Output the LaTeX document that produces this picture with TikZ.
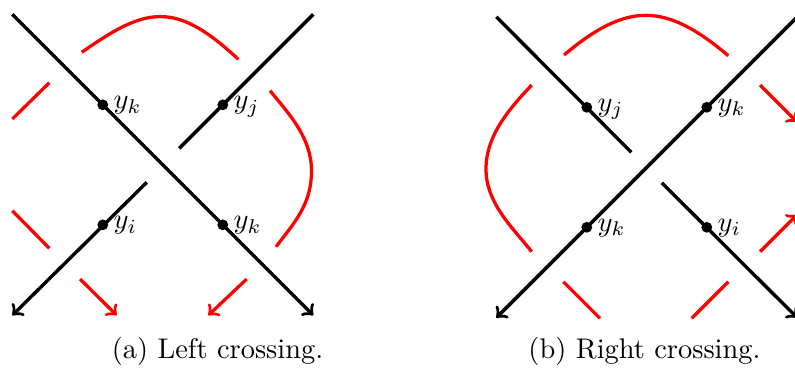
\documentclass[tikz,border=0pt]{standalone}
\begin{document}
\begin{tikzpicture}[x=0.352pt,y=-0.352pt,
  blk/.style={line width=1.2pt,black},
  rln/.style={line width=1.15pt,red},
  dotnode/.style={circle,fill=black,inner sep=0pt,minimum size=3.8pt},
  lab/.style={anchor=base west,inner sep=0pt,xshift=3.6pt,yshift=-1.4pt},
  capt/.style={anchor=base,inner sep=0pt}]
\useasboundingbox (0,0) rectangle (795,370);
\clip (0,0) rectangle (795,370);
% ---------- left panel ----------
\coordinate (a1) at (12.3,14.3);
\coordinate (a2) at (313.3,315.3);
\coordinate (b1) at (313.3,14.3);
\coordinate (b1g) at (179.3,148.3);
\coordinate (b2g) at (146.8,182.3);
\coordinate (b2) at (12.3,315.3);
\draw[blk,->] (a1) -- (a2);
\draw[blk] (b1) -- (b1g);
\draw[blk,->] (b2g) -- (b2);
\node[dotnode] (ld1) at (102.8,104.8) {};
\node[dotnode] (ld2) at (222.8,104.8) {};
\node[dotnode] (ld3) at (102.8,224.8) {};
\node[dotnode] (ld4) at (222.8,224.8) {};
\node[lab] (ll1) at (ld1.center) {$y_k$};
\node[lab] (ll2) at (ld2.center) {$y_j$};
\node[lab] (ll3) at (ld3.center) {$y_i$};
\node[lab] (ll4) at (ld4.center) {$y_k$};
% red
\coordinate (r1a) at (12.3,119);   \coordinate (r1b) at (49.3,82.7);
\coordinate (r2a) at (81.7,52.3);  \coordinate (r2b) at (238.3,59.3);
\coordinate (r3a) at (270,90.7);   \coordinate (r3m) at (311.5,171);
\coordinate (r3b) at (276,246.7);
\coordinate (r4a) at (12.3,210.7); \coordinate (r4b) at (49.3,248.3);
\coordinate (r5a) at (80,279);     \coordinate (r5b) at (116.7,315.3);
\coordinate (r6a) at (246.7,279);  \coordinate (r6b) at (208.3,315.3);
\draw[rln] (r1a) -- (r1b);
\draw[rln] (r2a) .. controls (145,8) and (174,-1) .. (r2b);
\draw[rln] (r3a) .. controls (290,115) and (311.5,138) .. (r3m)
                 .. controls (311.5,204) and (295,222) .. (r3b);
\draw[rln] (r4a) -- (r4b);
\draw[rln,->] (r5a) -- (r5b);
\draw[rln,->] (r6a) -- (r6b);
\node[capt] (capa) at (217.5,358.3) {(a) Left crossing.};
% ---------- right panel ----------
\coordinate (c1) at (797.3,16.8);
\coordinate (c2) at (496.3,317.8);
\coordinate (d1) at (496.3,16.8);
\coordinate (d1g) at (631.3,152.3);
\coordinate (d2g) at (661.8,182.8);
\coordinate (d2) at (797.3,317.8);
\draw[blk,->] (c1) -- (c2);
\draw[blk] (d1) -- (d1g);
\draw[blk,->] (d2g) -- (d2);
\node[dotnode] (rd1) at (586.8,107.3) {};
\node[dotnode] (rd2) at (706.8,107.3) {};
\node[dotnode] (rd3) at (586.8,227.3) {};
\node[dotnode] (rd4) at (706.8,227.3) {};
\node[lab] (rl1) at (rd1.center) {$y_j$};
\node[lab] (rl2) at (rd2.center) {$y_k$};
\node[lab] (rl3) at (rd3.center) {$y_k$};
\node[lab] (rl4) at (rd4.center) {$y_i$};
% red
\coordinate (s1a) at (564,55);      \coordinate (s1b) at (728.3,55.7);
\coordinate (s2a) at (531.7,85);    \coordinate (s2m) at (486,169);
\coordinate (s2b) at (531.7,251.7);
\coordinate (s3a) at (760,85);      \coordinate (s3b) at (797,122);
\coordinate (s4a) at (760,251.7);   \coordinate (s4b) at (797,214.7);
\coordinate (s5a) at (563.3,281.7); \coordinate (s5b) at (600,318.3);
\coordinate (s6a) at (728.3,281.7); \coordinate (s6b) at (691.7,318.3);
\draw[rln] (s1a) .. controls (627,2) and (665,2) .. (s1b);
\draw[rln] (s2a) .. controls (510,108) and (486,135) .. (s2m)
                 .. controls (486,203) and (512,227) .. (s2b);
\draw[rln,->] (s3a) -- (s3b);
\draw[rln,->] (s4a) -- (s4b);
\draw[rln] (s5a) -- (s5b);
\draw[rln] (s6a) -- (s6b);
\node[capt] (capb) at (644.5,358.3) {(b) Right crossing.};
\end{tikzpicture}
\end{document}
